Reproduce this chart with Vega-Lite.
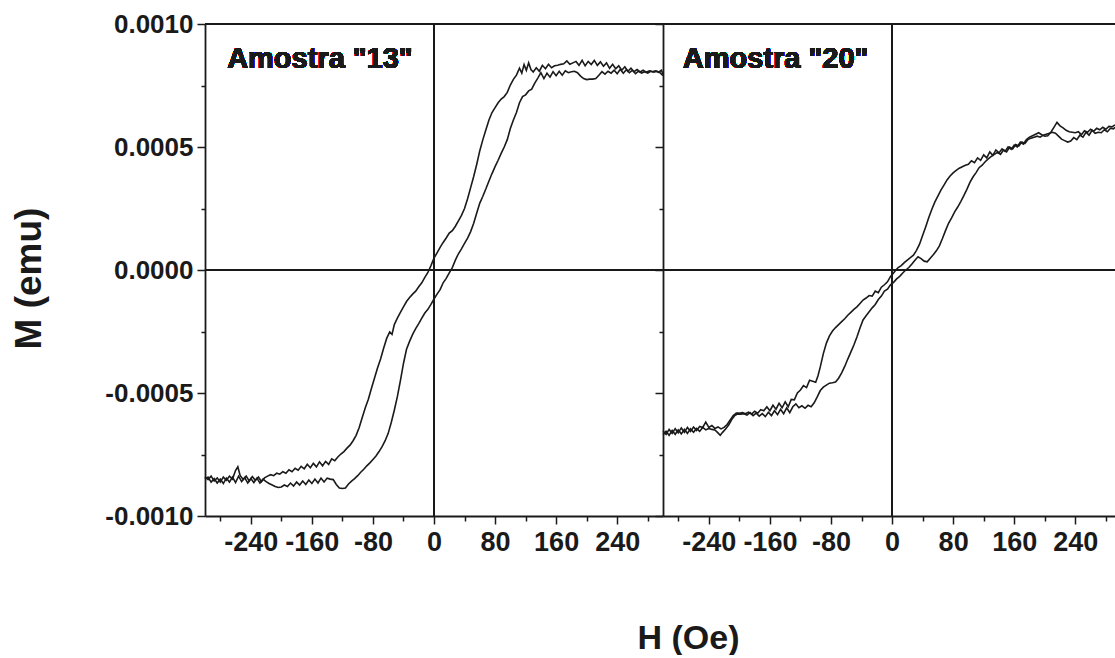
{
  "$schema": "https://vega.github.io/schema/vega-lite/v6.json",
  "background": "white",
  "padding": {"left": 10, "top": 11, "right": 0, "bottom": 0},
  "spacing": 0,
  "bounds": "flush",
  "config": {
    "view": {"stroke": null},
    "font": "Liberation Sans",
    "axis": {
      "grid": false,
      "domainColor": "#1a1a1a",
      "domainWidth": 1.8,
      "tickColor": "#1a1a1a",
      "tickWidth": 1.5,
      "labelColor": "#1a1a1a",
      "labelFont": "Liberation Sans",
      "labelFontWeight": "bold",
      "labelFontSize": 26,
      "titleColor": "#1a1a1a",
      "titleFont": "Liberation Sans",
      "titleFontWeight": "bold"
    }
  },
  "datasets": {
    "d13": [
      {"b":"down","H":-300,"M":-0.000840},{"b":"down","H":-296,"M":-0.000852},{"b":"down","H":-292,"M":-0.000838},{"b":"down","H":-288,"M":-0.000858},
      {"b":"down","H":-284,"M":-0.000845},{"b":"down","H":-280,"M":-0.000862},{"b":"down","H":-276,"M":-0.000842},{"b":"down","H":-272,"M":-0.000855},
      {"b":"down","H":-268,"M":-0.000838},{"b":"down","H":-264,"M":-0.000850},{"b":"down","H":-260,"M":-0.000815},{"b":"down","H":-257,"M":-0.000800},
      {"b":"down","H":-254,"M":-0.000835},{"b":"down","H":-250,"M":-0.000852},{"b":"down","H":-246,"M":-0.000838},{"b":"down","H":-242,"M":-0.000858},
      {"b":"down","H":-238,"M":-0.000840},{"b":"down","H":-234,"M":-0.000855},{"b":"down","H":-230,"M":-0.000842},{"b":"down","H":-226,"M":-0.000860},
      {"b":"down","H":-222,"M":-0.000845},{"b":"down","H":-218,"M":-0.000838},{"b":"down","H":-214,"M":-0.000832},{"b":"down","H":-210,"M":-0.000836},
      {"b":"down","H":-206,"M":-0.000826},{"b":"down","H":-202,"M":-0.000830},{"b":"down","H":-198,"M":-0.000820},{"b":"down","H":-194,"M":-0.000826},
      {"b":"down","H":-190,"M":-0.000812},{"b":"down","H":-186,"M":-0.000820},{"b":"down","H":-182,"M":-0.000806},{"b":"down","H":-178,"M":-0.000814},
      {"b":"down","H":-174,"M":-0.000798},{"b":"down","H":-170,"M":-0.000808},{"b":"down","H":-166,"M":-0.000790},{"b":"down","H":-162,"M":-0.000804},
      {"b":"down","H":-158,"M":-0.000786},{"b":"down","H":-154,"M":-0.000800},{"b":"down","H":-150,"M":-0.000780},{"b":"down","H":-146,"M":-0.000796},
      {"b":"down","H":-142,"M":-0.000778},{"b":"down","H":-138,"M":-0.000790},{"b":"down","H":-134,"M":-0.000768},{"b":"down","H":-130,"M":-0.000775},
      {"b":"down","H":-126,"M":-0.000760},{"b":"down","H":-122,"M":-0.000748},{"b":"down","H":-118,"M":-0.000738},{"b":"down","H":-114,"M":-0.000724},
      {"b":"down","H":-110,"M":-0.000712},{"b":"down","H":-106,"M":-0.000694},{"b":"down","H":-102,"M":-0.000672},{"b":"down","H":-98,"M":-0.000640},
      {"b":"down","H":-94,"M":-0.000600},{"b":"down","H":-90,"M":-0.000560},{"b":"down","H":-86,"M":-0.000525},{"b":"down","H":-82,"M":-0.000482},
      {"b":"down","H":-78,"M":-0.000440},{"b":"down","H":-74,"M":-0.000398},{"b":"down","H":-70,"M":-0.000362},{"b":"down","H":-66,"M":-0.000318},
      {"b":"down","H":-62,"M":-0.000278},{"b":"down","H":-58,"M":-0.000252},{"b":"down","H":-55,"M":-0.000262},{"b":"down","H":-52,"M":-0.000222},
      {"b":"down","H":-48,"M":-0.000196},{"b":"down","H":-44,"M":-0.000172},{"b":"down","H":-40,"M":-0.000150},{"b":"down","H":-36,"M":-0.000128},
      {"b":"down","H":-32,"M":-0.000112},{"b":"down","H":-28,"M":-0.000098},{"b":"down","H":-24,"M":-0.000086},{"b":"down","H":-20,"M":-0.000068},
      {"b":"down","H":-16,"M":-0.000052},{"b":"down","H":-12,"M":-0.000030},{"b":"down","H":-8,"M":-0.000010},{"b":"down","H":-4,"M":0.000018},
      {"b":"down","H":0,"M":0.000048},{"b":"down","H":4,"M":0.000070},{"b":"down","H":8,"M":0.000092},{"b":"down","H":12,"M":0.000112},
      {"b":"down","H":16,"M":0.000130},{"b":"down","H":20,"M":0.000150},{"b":"down","H":24,"M":0.000160},{"b":"down","H":28,"M":0.000178},
      {"b":"down","H":32,"M":0.000200},{"b":"down","H":36,"M":0.000222},{"b":"down","H":40,"M":0.000250},{"b":"down","H":44,"M":0.000290},
      {"b":"down","H":48,"M":0.000335},{"b":"down","H":52,"M":0.000380},{"b":"down","H":56,"M":0.000430},{"b":"down","H":60,"M":0.000485},
      {"b":"down","H":64,"M":0.000530},{"b":"down","H":68,"M":0.000570},{"b":"down","H":72,"M":0.000610},{"b":"down","H":76,"M":0.000640},
      {"b":"down","H":80,"M":0.000660},{"b":"down","H":84,"M":0.000680},{"b":"down","H":88,"M":0.000695},{"b":"down","H":92,"M":0.000705},
      {"b":"down","H":96,"M":0.000722},{"b":"down","H":100,"M":0.000752},{"b":"down","H":104,"M":0.000775},{"b":"down","H":108,"M":0.000792},
      {"b":"down","H":112,"M":0.000820},{"b":"down","H":115,"M":0.000800},{"b":"down","H":118,"M":0.000835},{"b":"down","H":121,"M":0.000812},
      {"b":"down","H":124,"M":0.000842},{"b":"down","H":127,"M":0.000815},{"b":"down","H":130,"M":0.000805},{"b":"down","H":134,"M":0.000822},
      {"b":"down","H":138,"M":0.000808},{"b":"down","H":142,"M":0.000832},{"b":"down","H":146,"M":0.000818},{"b":"down","H":150,"M":0.000836},
      {"b":"down","H":154,"M":0.000822},{"b":"down","H":158,"M":0.000830},{"b":"down","H":162,"M":0.000832},{"b":"down","H":166,"M":0.000836},
      {"b":"down","H":170,"M":0.000838},{"b":"down","H":174,"M":0.000850},{"b":"down","H":178,"M":0.000836},{"b":"down","H":182,"M":0.000842},
      {"b":"down","H":186,"M":0.000848},{"b":"down","H":190,"M":0.000832},{"b":"down","H":194,"M":0.000852},{"b":"down","H":198,"M":0.000830},
      {"b":"down","H":202,"M":0.000848},{"b":"down","H":206,"M":0.000835},{"b":"down","H":210,"M":0.000852},{"b":"down","H":214,"M":0.000832},
      {"b":"down","H":218,"M":0.000846},{"b":"down","H":222,"M":0.000828},{"b":"down","H":226,"M":0.000842},{"b":"down","H":230,"M":0.000820},
      {"b":"down","H":234,"M":0.000836},{"b":"down","H":238,"M":0.000818},{"b":"down","H":242,"M":0.000830},{"b":"down","H":246,"M":0.000812},
      {"b":"down","H":250,"M":0.000826},{"b":"down","H":254,"M":0.000808},{"b":"down","H":258,"M":0.000820},{"b":"down","H":262,"M":0.000806},
      {"b":"down","H":266,"M":0.000815},{"b":"down","H":270,"M":0.000805},{"b":"down","H":274,"M":0.000812},{"b":"down","H":278,"M":0.000804},
      {"b":"down","H":282,"M":0.000810},{"b":"down","H":286,"M":0.000806},{"b":"down","H":290,"M":0.000810},{"b":"down","H":294,"M":0.000804},
      {"b":"down","H":298,"M":0.000812},{"b":"down","H":300,"M":0.000795},
      {"b":"up","H":-300,"M":-0.000850},{"b":"up","H":-296,"M":-0.000842},{"b":"up","H":-292,"M":-0.000862},{"b":"up","H":-288,"M":-0.000848},
      {"b":"up","H":-284,"M":-0.000866},{"b":"up","H":-280,"M":-0.000850},{"b":"up","H":-276,"M":-0.000868},{"b":"up","H":-272,"M":-0.000846},
      {"b":"up","H":-268,"M":-0.000862},{"b":"up","H":-264,"M":-0.000842},{"b":"up","H":-260,"M":-0.000864},{"b":"up","H":-256,"M":-0.000838},
      {"b":"up","H":-252,"M":-0.000860},{"b":"up","H":-248,"M":-0.000844},{"b":"up","H":-244,"M":-0.000866},{"b":"up","H":-240,"M":-0.000848},
      {"b":"up","H":-236,"M":-0.000864},{"b":"up","H":-232,"M":-0.000846},{"b":"up","H":-228,"M":-0.000866},{"b":"up","H":-224,"M":-0.000850},
      {"b":"up","H":-220,"M":-0.000860},{"b":"up","H":-216,"M":-0.000868},{"b":"up","H":-212,"M":-0.000874},{"b":"up","H":-208,"M":-0.000880},
      {"b":"up","H":-204,"M":-0.000884},{"b":"up","H":-200,"M":-0.000882},{"b":"up","H":-196,"M":-0.000874},{"b":"up","H":-192,"M":-0.000880},
      {"b":"up","H":-188,"M":-0.000866},{"b":"up","H":-184,"M":-0.000878},{"b":"up","H":-180,"M":-0.000862},{"b":"up","H":-176,"M":-0.000874},
      {"b":"up","H":-172,"M":-0.000858},{"b":"up","H":-168,"M":-0.000872},{"b":"up","H":-164,"M":-0.000854},{"b":"up","H":-160,"M":-0.000868},
      {"b":"up","H":-156,"M":-0.000850},{"b":"up","H":-152,"M":-0.000866},{"b":"up","H":-148,"M":-0.000846},{"b":"up","H":-144,"M":-0.000862},
      {"b":"up","H":-140,"M":-0.000846},{"b":"up","H":-136,"M":-0.000850},{"b":"up","H":-132,"M":-0.000852},{"b":"up","H":-128,"M":-0.000872},
      {"b":"up","H":-124,"M":-0.000886},{"b":"up","H":-120,"M":-0.000888},{"b":"up","H":-116,"M":-0.000886},{"b":"up","H":-112,"M":-0.000870},
      {"b":"up","H":-108,"M":-0.000858},{"b":"up","H":-104,"M":-0.000848},{"b":"up","H":-100,"M":-0.000836},{"b":"up","H":-96,"M":-0.000822},
      {"b":"up","H":-92,"M":-0.000810},{"b":"up","H":-88,"M":-0.000796},{"b":"up","H":-84,"M":-0.000784},{"b":"up","H":-80,"M":-0.000770},
      {"b":"up","H":-76,"M":-0.000756},{"b":"up","H":-72,"M":-0.000738},{"b":"up","H":-68,"M":-0.000718},{"b":"up","H":-64,"M":-0.000694},
      {"b":"up","H":-60,"M":-0.000664},{"b":"up","H":-56,"M":-0.000620},{"b":"up","H":-52,"M":-0.000570},{"b":"up","H":-48,"M":-0.000515},
      {"b":"up","H":-44,"M":-0.000450},{"b":"up","H":-40,"M":-0.000380},{"b":"up","H":-36,"M":-0.000322},{"b":"up","H":-32,"M":-0.000290},
      {"b":"up","H":-28,"M":-0.000262},{"b":"up","H":-24,"M":-0.000238},{"b":"up","H":-20,"M":-0.000218},{"b":"up","H":-16,"M":-0.000196},
      {"b":"up","H":-12,"M":-0.000175},{"b":"up","H":-8,"M":-0.000160},{"b":"up","H":-4,"M":-0.000140},{"b":"up","H":0,"M":-0.000118},
      {"b":"up","H":4,"M":-0.000098},{"b":"up","H":8,"M":-0.000080},{"b":"up","H":12,"M":-0.000052},{"b":"up","H":16,"M":-0.000034},
      {"b":"up","H":20,"M":-0.000012},{"b":"up","H":24,"M":0.000010},{"b":"up","H":28,"M":0.000040},{"b":"up","H":32,"M":0.000066},
      {"b":"up","H":36,"M":0.000086},{"b":"up","H":40,"M":0.000108},{"b":"up","H":44,"M":0.000130},{"b":"up","H":48,"M":0.000156},
      {"b":"up","H":52,"M":0.000190},{"b":"up","H":56,"M":0.000232},{"b":"up","H":60,"M":0.000272},{"b":"up","H":64,"M":0.000300},
      {"b":"up","H":68,"M":0.000330},{"b":"up","H":72,"M":0.000362},{"b":"up","H":76,"M":0.000392},{"b":"up","H":80,"M":0.000420},
      {"b":"up","H":84,"M":0.000446},{"b":"up","H":88,"M":0.000474},{"b":"up","H":92,"M":0.000500},{"b":"up","H":96,"M":0.000530},
      {"b":"up","H":100,"M":0.000575},{"b":"up","H":104,"M":0.000610},{"b":"up","H":108,"M":0.000640},{"b":"up","H":112,"M":0.000680},
      {"b":"up","H":116,"M":0.000705},{"b":"up","H":120,"M":0.000712},{"b":"up","H":124,"M":0.000728},{"b":"up","H":128,"M":0.000735},
      {"b":"up","H":132,"M":0.000760},{"b":"up","H":136,"M":0.000780},{"b":"up","H":140,"M":0.000802},{"b":"up","H":144,"M":0.000778},
      {"b":"up","H":148,"M":0.000800},{"b":"up","H":152,"M":0.000784},{"b":"up","H":156,"M":0.000806},{"b":"up","H":160,"M":0.000790},
      {"b":"up","H":164,"M":0.000808},{"b":"up","H":168,"M":0.000792},{"b":"up","H":172,"M":0.000810},{"b":"up","H":176,"M":0.000802},
      {"b":"up","H":180,"M":0.000806},{"b":"up","H":184,"M":0.000808},{"b":"up","H":188,"M":0.000802},{"b":"up","H":192,"M":0.000788},
      {"b":"up","H":196,"M":0.000778},{"b":"up","H":200,"M":0.000774},{"b":"up","H":204,"M":0.000776},{"b":"up","H":208,"M":0.000776},
      {"b":"up","H":212,"M":0.000778},{"b":"up","H":216,"M":0.000792},{"b":"up","H":220,"M":0.000806},{"b":"up","H":224,"M":0.000796},
      {"b":"up","H":228,"M":0.000808},{"b":"up","H":232,"M":0.000800},{"b":"up","H":236,"M":0.000812},{"b":"up","H":240,"M":0.000798},
      {"b":"up","H":244,"M":0.000816},{"b":"up","H":248,"M":0.000800},{"b":"up","H":252,"M":0.000814},{"b":"up","H":256,"M":0.000802},
      {"b":"up","H":260,"M":0.000812},{"b":"up","H":264,"M":0.000798},{"b":"up","H":268,"M":0.000808},{"b":"up","H":272,"M":0.000800},
      {"b":"up","H":276,"M":0.000806},{"b":"up","H":280,"M":0.000800},{"b":"up","H":284,"M":0.000808},{"b":"up","H":288,"M":0.000804},
      {"b":"up","H":292,"M":0.000808},{"b":"up","H":296,"M":0.000802},{"b":"up","H":300,"M":0.000790}
    ],
    "d20": [
      {"b":"down","H":-300,"M":-0.000655},{"b":"down","H":-296,"M":-0.000668},{"b":"down","H":-292,"M":-0.000648},{"b":"down","H":-288,"M":-0.000664},
      {"b":"down","H":-284,"M":-0.000645},{"b":"down","H":-280,"M":-0.000662},{"b":"down","H":-276,"M":-0.000642},{"b":"down","H":-272,"M":-0.000660},
      {"b":"down","H":-268,"M":-0.000640},{"b":"down","H":-264,"M":-0.000656},{"b":"down","H":-260,"M":-0.000638},{"b":"down","H":-256,"M":-0.000652},
      {"b":"down","H":-252,"M":-0.000636},{"b":"down","H":-248,"M":-0.000640},{"b":"down","H":-244,"M":-0.000618},{"b":"down","H":-240,"M":-0.000640},
      {"b":"down","H":-236,"M":-0.000632},{"b":"down","H":-232,"M":-0.000644},{"b":"down","H":-228,"M":-0.000638},{"b":"down","H":-224,"M":-0.000646},
      {"b":"down","H":-220,"M":-0.000640},{"b":"down","H":-216,"M":-0.000628},{"b":"down","H":-212,"M":-0.000610},{"b":"down","H":-208,"M":-0.000592},
      {"b":"down","H":-204,"M":-0.000582},{"b":"down","H":-200,"M":-0.000582},{"b":"down","H":-196,"M":-0.000580},{"b":"down","H":-192,"M":-0.000584},
      {"b":"down","H":-188,"M":-0.000578},{"b":"down","H":-184,"M":-0.000586},{"b":"down","H":-180,"M":-0.000574},{"b":"down","H":-176,"M":-0.000582},
      {"b":"down","H":-172,"M":-0.000568},{"b":"down","H":-168,"M":-0.000572},{"b":"down","H":-164,"M":-0.000556},{"b":"down","H":-160,"M":-0.000572},
      {"b":"down","H":-156,"M":-0.000550},{"b":"down","H":-152,"M":-0.000566},{"b":"down","H":-148,"M":-0.000542},{"b":"down","H":-144,"M":-0.000560},
      {"b":"down","H":-140,"M":-0.000536},{"b":"down","H":-136,"M":-0.000556},{"b":"down","H":-132,"M":-0.000526},{"b":"down","H":-128,"M":-0.000528},
      {"b":"down","H":-124,"M":-0.000500},{"b":"down","H":-120,"M":-0.000488},{"b":"down","H":-116,"M":-0.000470},{"b":"down","H":-112,"M":-0.000478},
      {"b":"down","H":-108,"M":-0.000448},{"b":"down","H":-104,"M":-0.000452},{"b":"down","H":-100,"M":-0.000456},{"b":"down","H":-97,"M":-0.000430},
      {"b":"down","H":-94,"M":-0.000394},{"b":"down","H":-90,"M":-0.000340},{"b":"down","H":-86,"M":-0.000297},{"b":"down","H":-82,"M":-0.000268},
      {"b":"down","H":-78,"M":-0.000248},{"b":"down","H":-74,"M":-0.000234},{"b":"down","H":-70,"M":-0.000222},{"b":"down","H":-66,"M":-0.000210},
      {"b":"down","H":-62,"M":-0.000198},{"b":"down","H":-58,"M":-0.000184},{"b":"down","H":-54,"M":-0.000172},{"b":"down","H":-50,"M":-0.000160},
      {"b":"down","H":-46,"M":-0.000150},{"b":"down","H":-42,"M":-0.000136},{"b":"down","H":-38,"M":-0.000122},{"b":"down","H":-34,"M":-0.000114},
      {"b":"down","H":-30,"M":-0.000104},{"b":"down","H":-26,"M":-0.000106},{"b":"down","H":-22,"M":-0.000086},{"b":"down","H":-18,"M":-0.000092},
      {"b":"down","H":-14,"M":-0.000070},{"b":"down","H":-10,"M":-0.000060},{"b":"down","H":-6,"M":-0.000048},{"b":"down","H":-2,"M":-0.000026},
      {"b":"down","H":2,"M":-0.000012},{"b":"down","H":5,"M":0.000000},{"b":"down","H":8,"M":0.000010},{"b":"down","H":12,"M":0.000018},
      {"b":"down","H":16,"M":0.000030},{"b":"down","H":20,"M":0.000040},{"b":"down","H":24,"M":0.000050},{"b":"down","H":28,"M":0.000060},
      {"b":"down","H":32,"M":0.000080},{"b":"down","H":36,"M":0.000105},{"b":"down","H":40,"M":0.000140},{"b":"down","H":44,"M":0.000175},
      {"b":"down","H":48,"M":0.000212},{"b":"down","H":52,"M":0.000246},{"b":"down","H":56,"M":0.000276},{"b":"down","H":60,"M":0.000300},
      {"b":"down","H":64,"M":0.000325},{"b":"down","H":68,"M":0.000345},{"b":"down","H":72,"M":0.000366},{"b":"down","H":76,"M":0.000382},
      {"b":"down","H":80,"M":0.000395},{"b":"down","H":84,"M":0.000405},{"b":"down","H":88,"M":0.000414},{"b":"down","H":92,"M":0.000420},
      {"b":"down","H":96,"M":0.000426},{"b":"down","H":100,"M":0.000430},{"b":"down","H":104,"M":0.000444},{"b":"down","H":108,"M":0.000436},
      {"b":"down","H":112,"M":0.000456},{"b":"down","H":116,"M":0.000446},{"b":"down","H":120,"M":0.000468},{"b":"down","H":124,"M":0.000456},
      {"b":"down","H":128,"M":0.000480},{"b":"down","H":132,"M":0.000466},{"b":"down","H":136,"M":0.000488},{"b":"down","H":140,"M":0.000476},
      {"b":"down","H":144,"M":0.000492},{"b":"down","H":148,"M":0.000482},{"b":"down","H":152,"M":0.000500},{"b":"down","H":156,"M":0.000490},
      {"b":"down","H":160,"M":0.000508},{"b":"down","H":164,"M":0.000500},{"b":"down","H":168,"M":0.000520},{"b":"down","H":172,"M":0.000512},
      {"b":"down","H":176,"M":0.000530},{"b":"down","H":180,"M":0.000540},{"b":"down","H":184,"M":0.000546},{"b":"down","H":188,"M":0.000552},
      {"b":"down","H":192,"M":0.000558},{"b":"down","H":196,"M":0.000550},{"b":"down","H":200,"M":0.000544},{"b":"down","H":204,"M":0.000546},
      {"b":"down","H":208,"M":0.000560},{"b":"down","H":212,"M":0.000580},{"b":"down","H":216,"M":0.000600},{"b":"down","H":220,"M":0.000586},
      {"b":"down","H":224,"M":0.000578},{"b":"down","H":228,"M":0.000568},{"b":"down","H":232,"M":0.000562},{"b":"down","H":236,"M":0.000560},
      {"b":"down","H":240,"M":0.000558},{"b":"down","H":244,"M":0.000562},{"b":"down","H":248,"M":0.000550},{"b":"down","H":252,"M":0.000566},
      {"b":"down","H":256,"M":0.000560},{"b":"down","H":260,"M":0.000572},{"b":"down","H":264,"M":0.000564},{"b":"down","H":268,"M":0.000576},
      {"b":"down","H":272,"M":0.000570},{"b":"down","H":276,"M":0.000580},{"b":"down","H":280,"M":0.000572},{"b":"down","H":284,"M":0.000584},
      {"b":"down","H":288,"M":0.000582},{"b":"down","H":292,"M":0.000590},
      {"b":"up","H":-300,"M":-0.000670},{"b":"up","H":-296,"M":-0.000656},{"b":"up","H":-292,"M":-0.000672},{"b":"up","H":-288,"M":-0.000652},
      {"b":"up","H":-284,"M":-0.000668},{"b":"up","H":-280,"M":-0.000650},{"b":"up","H":-276,"M":-0.000666},{"b":"up","H":-272,"M":-0.000648},
      {"b":"up","H":-268,"M":-0.000664},{"b":"up","H":-264,"M":-0.000646},{"b":"up","H":-260,"M":-0.000660},{"b":"up","H":-256,"M":-0.000644},
      {"b":"up","H":-252,"M":-0.000656},{"b":"up","H":-248,"M":-0.000640},{"b":"up","H":-244,"M":-0.000650},{"b":"up","H":-240,"M":-0.000644},
      {"b":"up","H":-236,"M":-0.000648},{"b":"up","H":-232,"M":-0.000650},{"b":"up","H":-228,"M":-0.000662},{"b":"up","H":-225,"M":-0.000672},
      {"b":"up","H":-222,"M":-0.000660},{"b":"up","H":-218,"M":-0.000646},{"b":"up","H":-214,"M":-0.000630},{"b":"up","H":-210,"M":-0.000608},
      {"b":"up","H":-206,"M":-0.000592},{"b":"up","H":-202,"M":-0.000585},{"b":"up","H":-198,"M":-0.000586},{"b":"up","H":-194,"M":-0.000584},
      {"b":"up","H":-190,"M":-0.000590},{"b":"up","H":-186,"M":-0.000580},{"b":"up","H":-182,"M":-0.000592},{"b":"up","H":-178,"M":-0.000582},
      {"b":"up","H":-174,"M":-0.000594},{"b":"up","H":-170,"M":-0.000584},{"b":"up","H":-166,"M":-0.000596},{"b":"up","H":-162,"M":-0.000578},
      {"b":"up","H":-158,"M":-0.000592},{"b":"up","H":-154,"M":-0.000572},{"b":"up","H":-150,"M":-0.000588},{"b":"up","H":-146,"M":-0.000566},
      {"b":"up","H":-142,"M":-0.000584},{"b":"up","H":-138,"M":-0.000560},{"b":"up","H":-134,"M":-0.000580},{"b":"up","H":-130,"M":-0.000556},
      {"b":"up","H":-126,"M":-0.000544},{"b":"up","H":-122,"M":-0.000560},{"b":"up","H":-118,"M":-0.000552},{"b":"up","H":-114,"M":-0.000562},
      {"b":"up","H":-110,"M":-0.000550},{"b":"up","H":-106,"M":-0.000556},{"b":"up","H":-102,"M":-0.000540},{"b":"up","H":-98,"M":-0.000516},
      {"b":"up","H":-94,"M":-0.000490},{"b":"up","H":-90,"M":-0.000476},{"b":"up","H":-86,"M":-0.000468},{"b":"up","H":-82,"M":-0.000460},
      {"b":"up","H":-78,"M":-0.000458},{"b":"up","H":-74,"M":-0.000455},{"b":"up","H":-70,"M":-0.000440},{"b":"up","H":-66,"M":-0.000418},
      {"b":"up","H":-62,"M":-0.000392},{"b":"up","H":-58,"M":-0.000362},{"b":"up","H":-54,"M":-0.000334},{"b":"up","H":-50,"M":-0.000305},
      {"b":"up","H":-46,"M":-0.000272},{"b":"up","H":-42,"M":-0.000236},{"b":"up","H":-38,"M":-0.000203},{"b":"up","H":-34,"M":-0.000186},
      {"b":"up","H":-30,"M":-0.000170},{"b":"up","H":-26,"M":-0.000154},{"b":"up","H":-22,"M":-0.000140},{"b":"up","H":-18,"M":-0.000120},
      {"b":"up","H":-14,"M":-0.000106},{"b":"up","H":-10,"M":-0.000086},{"b":"up","H":-6,"M":-0.000078},{"b":"up","H":-2,"M":-0.000060},
      {"b":"up","H":2,"M":-0.000050},{"b":"up","H":6,"M":-0.000036},{"b":"up","H":10,"M":-0.000026},{"b":"up","H":14,"M":-0.000012},
      {"b":"up","H":18,"M":0.000000},{"b":"up","H":22,"M":0.000010},{"b":"up","H":26,"M":0.000024},{"b":"up","H":30,"M":0.000040},
      {"b":"up","H":34,"M":0.000054},{"b":"up","H":38,"M":0.000046},{"b":"up","H":42,"M":0.000036},{"b":"up","H":46,"M":0.000033},
      {"b":"up","H":50,"M":0.000048},{"b":"up","H":54,"M":0.000062},{"b":"up","H":58,"M":0.000078},{"b":"up","H":62,"M":0.000098},
      {"b":"up","H":66,"M":0.000128},{"b":"up","H":70,"M":0.000160},{"b":"up","H":74,"M":0.000190},{"b":"up","H":78,"M":0.000212},
      {"b":"up","H":82,"M":0.000236},{"b":"up","H":86,"M":0.000256},{"b":"up","H":90,"M":0.000278},{"b":"up","H":94,"M":0.000302},
      {"b":"up","H":98,"M":0.000328},{"b":"up","H":102,"M":0.000356},{"b":"up","H":106,"M":0.000378},{"b":"up","H":110,"M":0.000396},
      {"b":"up","H":114,"M":0.000416},{"b":"up","H":118,"M":0.000426},{"b":"up","H":122,"M":0.000440},{"b":"up","H":126,"M":0.000452},
      {"b":"up","H":130,"M":0.000462},{"b":"up","H":134,"M":0.000470},{"b":"up","H":138,"M":0.000478},{"b":"up","H":142,"M":0.000470},
      {"b":"up","H":146,"M":0.000488},{"b":"up","H":150,"M":0.000480},{"b":"up","H":154,"M":0.000500},{"b":"up","H":158,"M":0.000492},
      {"b":"up","H":162,"M":0.000510},{"b":"up","H":166,"M":0.000504},{"b":"up","H":170,"M":0.000520},{"b":"up","H":174,"M":0.000514},
      {"b":"up","H":178,"M":0.000530},{"b":"up","H":182,"M":0.000536},{"b":"up","H":186,"M":0.000540},{"b":"up","H":190,"M":0.000544},
      {"b":"up","H":194,"M":0.000540},{"b":"up","H":198,"M":0.000548},{"b":"up","H":202,"M":0.000552},{"b":"up","H":206,"M":0.000556},
      {"b":"up","H":210,"M":0.000560},{"b":"up","H":214,"M":0.000556},{"b":"up","H":218,"M":0.000544},{"b":"up","H":222,"M":0.000532},
      {"b":"up","H":226,"M":0.000526},{"b":"up","H":230,"M":0.000520},{"b":"up","H":234,"M":0.000524},{"b":"up","H":238,"M":0.000538},
      {"b":"up","H":242,"M":0.000530},{"b":"up","H":246,"M":0.000548},{"b":"up","H":250,"M":0.000540},{"b":"up","H":254,"M":0.000560},
      {"b":"up","H":258,"M":0.000548},{"b":"up","H":262,"M":0.000568},{"b":"up","H":266,"M":0.000556},{"b":"up","H":270,"M":0.000560},
      {"b":"up","H":274,"M":0.000558},{"b":"up","H":278,"M":0.000570},{"b":"up","H":282,"M":0.000562},{"b":"up","H":286,"M":0.000576},
      {"b":"up","H":290,"M":0.000574},{"b":"up","H":292,"M":0.000580}
    ]
  },
  "hconcat": [
    {
      "width": 458,
      "height": 492,
      "data": {"name": "d13"},
      "resolve": {"axis": {"x": "independent"}},
      "layer": [
        {
          "mark": {"type": "line", "color": "#1a1a1a", "strokeWidth": 1.6},
          "encoding": {
            "x": {
              "field": "H", "type": "quantitative",
              "scale": {"domain": [-300, 300], "nice": false, "zero": false},
              "axis": {
                "orient": "bottom",
                "values": [-240, -160, -80, 0, 80, 160, 240],
                "labelExpr": "replace(format(datum.value, 'd'), '\u2212', '-')",
                "labelOverlap": false,
                "labelFlush": false,
                "labelFontSize": 27,
                "labelFontWeight": "bold",
                "labelFont": "Liberation Sans",
                "labelColor": "#1a1a1a",
                "tickSize": 8,
                "labelPadding": 5,
                "title": "H (Oe)",
                "titleFontSize": 34,
                "titleX": 483,
                "titleY": 132,
                "titleBaseline": "alphabetic",
                "titleAlign": "center"
              }
            },
            "y": {
              "field": "M", "type": "quantitative",
              "scale": {"domain": [-0.001, 0.001], "nice": false, "zero": false},
              "axis": {
                "values": [-0.001, -0.00075, -0.0005, -0.00025, 0, 0.00025, 0.0005, 0.00075, 0.001],
                "labelExpr": "abs(round(datum.value * 4000)) % 2 == 0 ? replace(format(datum.value, '.4f'), '\u2212', '-') : ''",
                "labelOverlap": false,
                "labelFlush": false,
                "tickSize": {"condition": {"test": "abs(round(datum.value * 4000)) % 2 == 0", "value": 8}, "value": 4},
                "labelPadding": 4,
                "title": "M (emu)",
                "titleFontSize": 37,
                "titleX": -165,
                "titleY": 254,
                "titleBaseline": "alphabetic",
                "titleAlign": "center",
                "titleAngle": 270
              }
            },
            "detail": {"field": "b"}
          }
        },
        {"mark": {"type": "rule", "color": "#1a1a1a", "strokeWidth": 1.5}, "encoding": {"y": {"datum": 0}}},
        {"mark": {"type": "rule", "color": "#1a1a1a", "strokeWidth": 1.8}, "encoding": {"y": {"datum": 0.001}}},
        {
          "mark": {"type": "rule", "color": "#1a1a1a", "strokeWidth": 1.5},
          "encoding": {
            "x": {"datum": 0, "axis": {"orient": "bottom", "values": [-280, -200, -120, -40, 40, 120, 200, 280], "labels": false, "domain": false, "ticks": true, "tickSize": 5, "tickColor": "#1a1a1a", "tickWidth": 1.5, "title": null}}
          }
        },
        {
          "mark": {"type": "text", "align": "left", "baseline": "alphabetic", "fontSize": 29, "fontWeight": "bold", "font": "Liberation Sans", "color": "#1a1a1a"},
          "encoding": {"x": {"datum": -271, "axis": null}, "y": {"datum": 0.00082}, "text": {"value": "Amostra \"13\""}}
        }
      ]
    },
    {
      "width": 452,
      "height": 492,
      "data": {"name": "d20"},
      "resolve": {"axis": {"x": "independent"}},
      "layer": [
        {
          "mark": {"type": "line", "color": "#1a1a1a", "strokeWidth": 1.6},
          "encoding": {
            "x": {
              "field": "H", "type": "quantitative",
              "scale": {"domain": [-300, 292], "nice": false, "zero": false},
              "axis": {
                "orient": "bottom",
                "values": [-240, -160, -80, 0, 80, 160, 240],
                "labelExpr": "replace(format(datum.value, 'd'), '\u2212', '-')",
                "labelOverlap": false,
                "labelFlush": false,
                "labelFontSize": 27,
                "labelFontWeight": "bold",
                "labelFont": "Liberation Sans",
                "labelColor": "#1a1a1a",
                "tickSize": 8,
                "labelPadding": 5,
                "title": null
              }
            },
            "y": {
              "field": "M", "type": "quantitative",
              "scale": {"domain": [-0.001, 0.001], "nice": false, "zero": false},
              "axis": {
                "values": [-0.001, -0.00075, -0.0005, -0.00025, 0, 0.00025, 0.0005, 0.00075, 0.001],
                "labels": false,
                "tickSize": {"condition": {"test": "abs(round(datum.value * 4000)) % 2 == 0", "value": 8}, "value": 4},
                "title": null
              }
            },
            "detail": {"field": "b"}
          }
        },
        {"mark": {"type": "rule", "color": "#1a1a1a", "strokeWidth": 1.5}, "encoding": {"y": {"datum": 0}}},
        {"mark": {"type": "rule", "color": "#1a1a1a", "strokeWidth": 1.8}, "encoding": {"y": {"datum": 0.001}}},
        {
          "mark": {"type": "rule", "color": "#1a1a1a", "strokeWidth": 1.5},
          "encoding": {
            "x": {"datum": 0, "axis": {"orient": "bottom", "values": [-280, -200, -120, -40, 40, 120, 200, 280], "labels": false, "domain": false, "ticks": true, "tickSize": 5, "tickColor": "#1a1a1a", "tickWidth": 1.5, "title": null}}
          }
        },
        {
          "mark": {"type": "text", "align": "left", "baseline": "alphabetic", "fontSize": 29, "fontWeight": "bold", "font": "Liberation Sans", "color": "#1a1a1a"},
          "encoding": {"x": {"datum": -274, "axis": null}, "y": {"datum": 0.00082}, "text": {"value": "Amostra \"20\""}}
        }
      ]
    }
  ]
}
